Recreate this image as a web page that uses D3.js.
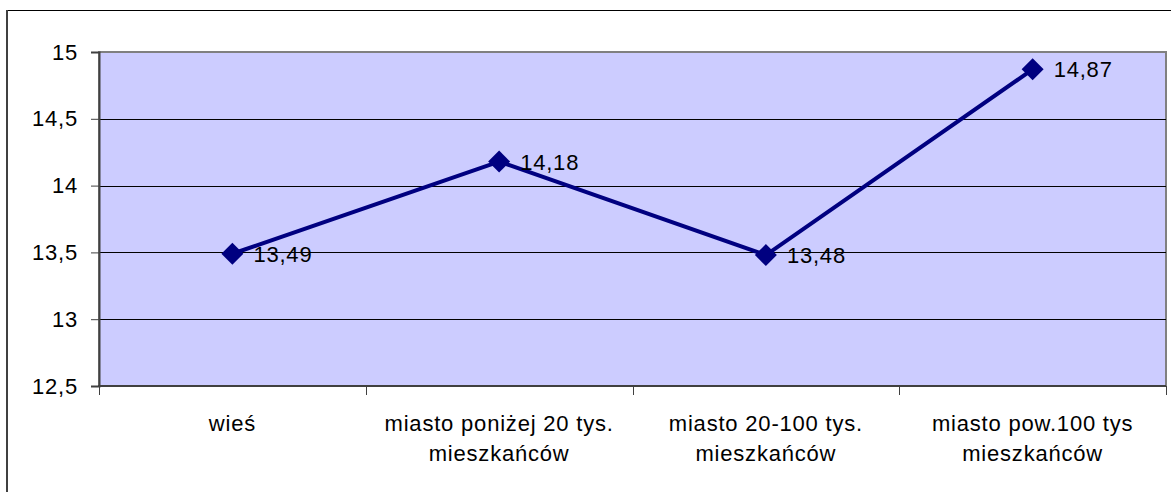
<!DOCTYPE html>
<html>
  <head>
    <meta charset="utf-8">
    <title></title>
    <script src="https://d3js.org/d3.v7.min.js"></script>
  </head>

  <style>
    body {
      margin: 0;
      background-color: white;
    }

    svg text {
      font-family: 'Liberation Sans', Arial, sans-serif;
      font-size: 22px;
      letter-spacing: 0.8px;
      fill: black;
    }
  </style>

  <body>
    <div id="chart"></div>
    <script>

    // values
    var categories = ['wieś', 'miasto poniżej 20 tys.|mieszkańców', 'miasto 20-100 tys.|mieszkańców', 'miasto pow.100 tys|mieszkańców'];
    var values = [13.49, 14.18, 13.48, 14.87];
    var valueLabels = ['13,49', '14,18', '13,48', '14,87'];
    var yTicks = [12.5, 13, 13.5, 14, 14.5, 15];

    var width = 1171;
    var height = 492;
    var plot = { left: 99, top: 52, right: 1166, bottom: 386 };

    var svg = d3.select('#chart').append('svg')
      .attr('width', width)
      .attr('height', height);

    // outer chart frame (runs past the right / bottom edge)
    svg.append('line')
      .attr('x1', 7).attr('x2', width + 5)
      .attr('y1', 10.5).attr('y2', 10.5)
      .style('stroke', 'black');
    svg.append('line')
      .attr('x1', 7).attr('x2', 7)
      .attr('y1', 10).attr('y2', height + 5)
      .style('stroke', '#404040')
      .style('stroke-width', 2);

    var xScale = d3.scaleBand()
      .domain(categories)
      .range([plot.left, plot.right]);

    var yScale = d3.scaleLinear()
      .domain([12.5, 15])
      .range([plot.bottom, plot.top]);

    // plot area
    svg.append('rect')
      .attr('x', plot.left)
      .attr('y', plot.top)
      .attr('width', plot.right - plot.left)
      .attr('height', plot.bottom - plot.top)
      .style('fill', '#ccccff')
      .style('stroke', '#808080')
      .style('stroke-width', 2);

    // gridlines
    svg.append('g').selectAll('line')
      .data(yTicks.slice(1, -1))
      .enter().append('line')
      .attr('x1', plot.left).attr('x2', plot.right)
      .attr('y1', function(d) { return Math.round(yScale(d)) + 0.5; })
      .attr('y2', function(d) { return Math.round(yScale(d)) + 0.5; })
      .style('stroke', 'black');

    // Y axis
    var yGuide = svg.append('g')
      .attr('transform', 'translate(' + plot.left + ',0)')
      .call(d3.axisLeft(yScale)
        .tickValues(yTicks)
        .tickSize(8)
        .tickPadding(13)
        .tickFormat(function(d) { return String(d).replace('.', ','); }));
    yGuide.select('.domain').style('stroke', '#404040').style('stroke-width', 2);
    yGuide.selectAll('.tick line').style('stroke', '#404040');
    yGuide.selectAll('text')
      .attr('font-size', null).attr('font-family', null)
      .style('font-size', '22px');

    // X axis (ticks between categories)
    var bounds = categories.map(function(c) { return xScale(c); }).concat([plot.right]);
    svg.append('line')
      .attr('x1', plot.left - 1).attr('x2', plot.right)
      .attr('y1', plot.bottom).attr('y2', plot.bottom)
      .style('stroke', '#404040')
      .style('stroke-width', 2);
    svg.append('g').selectAll('line')
      .data(bounds)
      .enter().append('line')
      .attr('x1', function(d) { return Math.round(d) + 0.5; })
      .attr('x2', function(d) { return Math.round(d) + 0.5; })
      .attr('y1', plot.bottom)
      .attr('y2', plot.bottom + 9)
      .style('stroke', '#404040');

    var xLabels = svg.append('g').selectAll('text')
      .data(categories)
      .enter().append('text')
      .attr('text-anchor', 'middle')
      .attr('x', function(d) { return xScale(d) + xScale.bandwidth() / 2; })
      .attr('y', 431);
    xLabels.each(function(d) {
      var parts = d.split('|');
      var t = d3.select(this);
      var x = xScale(d) + xScale.bandwidth() / 2;
      parts.forEach(function(p, i) {
        t.append('tspan')
          .attr('x', x)
          .attr('dy', i === 0 ? 0 : 30)
          .text(p);
      });
    });

    // line
    var line = d3.line()
      .x(function(d, i) { return xScale(categories[i]) + xScale.bandwidth() / 2; })
      .y(function(d) { return yScale(d); });

    svg.append('path')
      .datum(values)
      .attr('d', line)
      .style('fill', 'none')
      .style('stroke', '#000080')
      .style('stroke-width', 4)
      .style('stroke-linejoin', 'round');

    // diamond markers
    svg.append('g').selectAll('path')
      .data(values)
      .enter().append('path')
      .attr('d', 'M0,-11L11,0L0,11L-11,0Z')
      .attr('transform', function(d, i) {
        return 'translate(' + (xScale(categories[i]) + xScale.bandwidth() / 2) + ',' + yScale(d) + ')';
      })
      .style('fill', '#000080');

    // data labels
    svg.append('g').selectAll('text')
      .data(values)
      .enter().append('text')
      .attr('x', function(d, i) { return xScale(categories[i]) + xScale.bandwidth() / 2 + 21; })
      .attr('y', function(d) { return yScale(d) + 8; })
      .text(function(d, i) { return valueLabels[i]; });

    </script>
  </body>
</html>
